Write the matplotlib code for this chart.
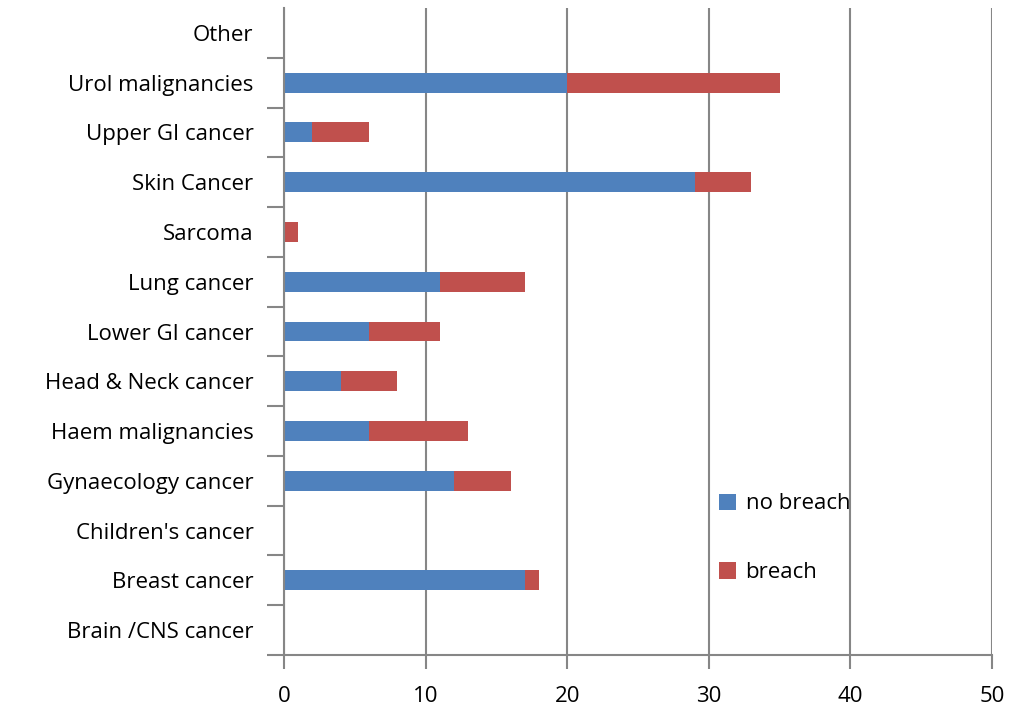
import matplotlib.pyplot as plt

plt.rcParams['font.family'] = ['Open Sans', 'DejaVu Sans']

# Cancer types, bottom to top
categories = ['Brain /CNS cancer', 'Breast cancer', "Children's cancer",
              'Gynaecology cancer', 'Haem malignancies', 'Head & Neck cancer',
              'Lower GI cancer', 'Lung cancer', 'Sarcoma', 'Skin Cancer',
              'Upper GI cancer', 'Urol malignancies', 'Other']
no_breach = [0, 17, 0, 12, 6, 4, 6, 11, 0, 29, 2, 20, 0]
breach = [0, 1, 0, 4, 7, 4, 5, 6, 1, 4, 4, 15, 0]

BLUE = '#4F81BD'
RED = '#C0504D'
GRID = '#868686'

fig = plt.figure(figsize=(10.12, 7.06), dpi=100)
ax = fig.add_axes([284 / 1012, 51 / 706, 708 / 1012, 647 / 706])

y = range(len(categories))
ax.barh(y, no_breach, height=0.4, color=BLUE, label='no breach')
ax.barh(y, breach, left=no_breach, height=0.4, color=RED, label='breach')

ax.set_xlim(0, 50)
ax.set_ylim(-0.5, len(categories) - 0.5)
ax.set_xticks(range(0, 51, 10))
ax.set_yticks(list(y))
ax.set_yticklabels(categories)

# category boundary ticks on the y axis (none at the very top)
ax.set_yticks([i - 0.5 for i in range(len(categories))], minor=True)
ax.tick_params(axis='y', which='major', length=0, pad=22, labelsize=16)
ax.tick_params(axis='y', which='minor', length=12, color=GRID, width=1.5, direction='out')
ax.tick_params(axis='x', length=10, color=GRID, width=1.5, direction='out', pad=12, labelsize=16)

ax.grid(axis='x', color=GRID, linewidth=1.5)
ax.set_axisbelow(True)
for side in ['top', 'right']:
    ax.spines[side].set_visible(False)
for side in ['left', 'bottom']:
    ax.spines[side].set_color(GRID)
    ax.spines[side].set_linewidth(1.5)

ax.legend(loc='lower left', bbox_to_anchor=(0.586, 0.08), frameon=False,
          fontsize=16, handlelength=0.75, handleheight=0.75,
          labelspacing=2.15, handletextpad=0.45)

fig.savefig('out.png', dpi=100)
